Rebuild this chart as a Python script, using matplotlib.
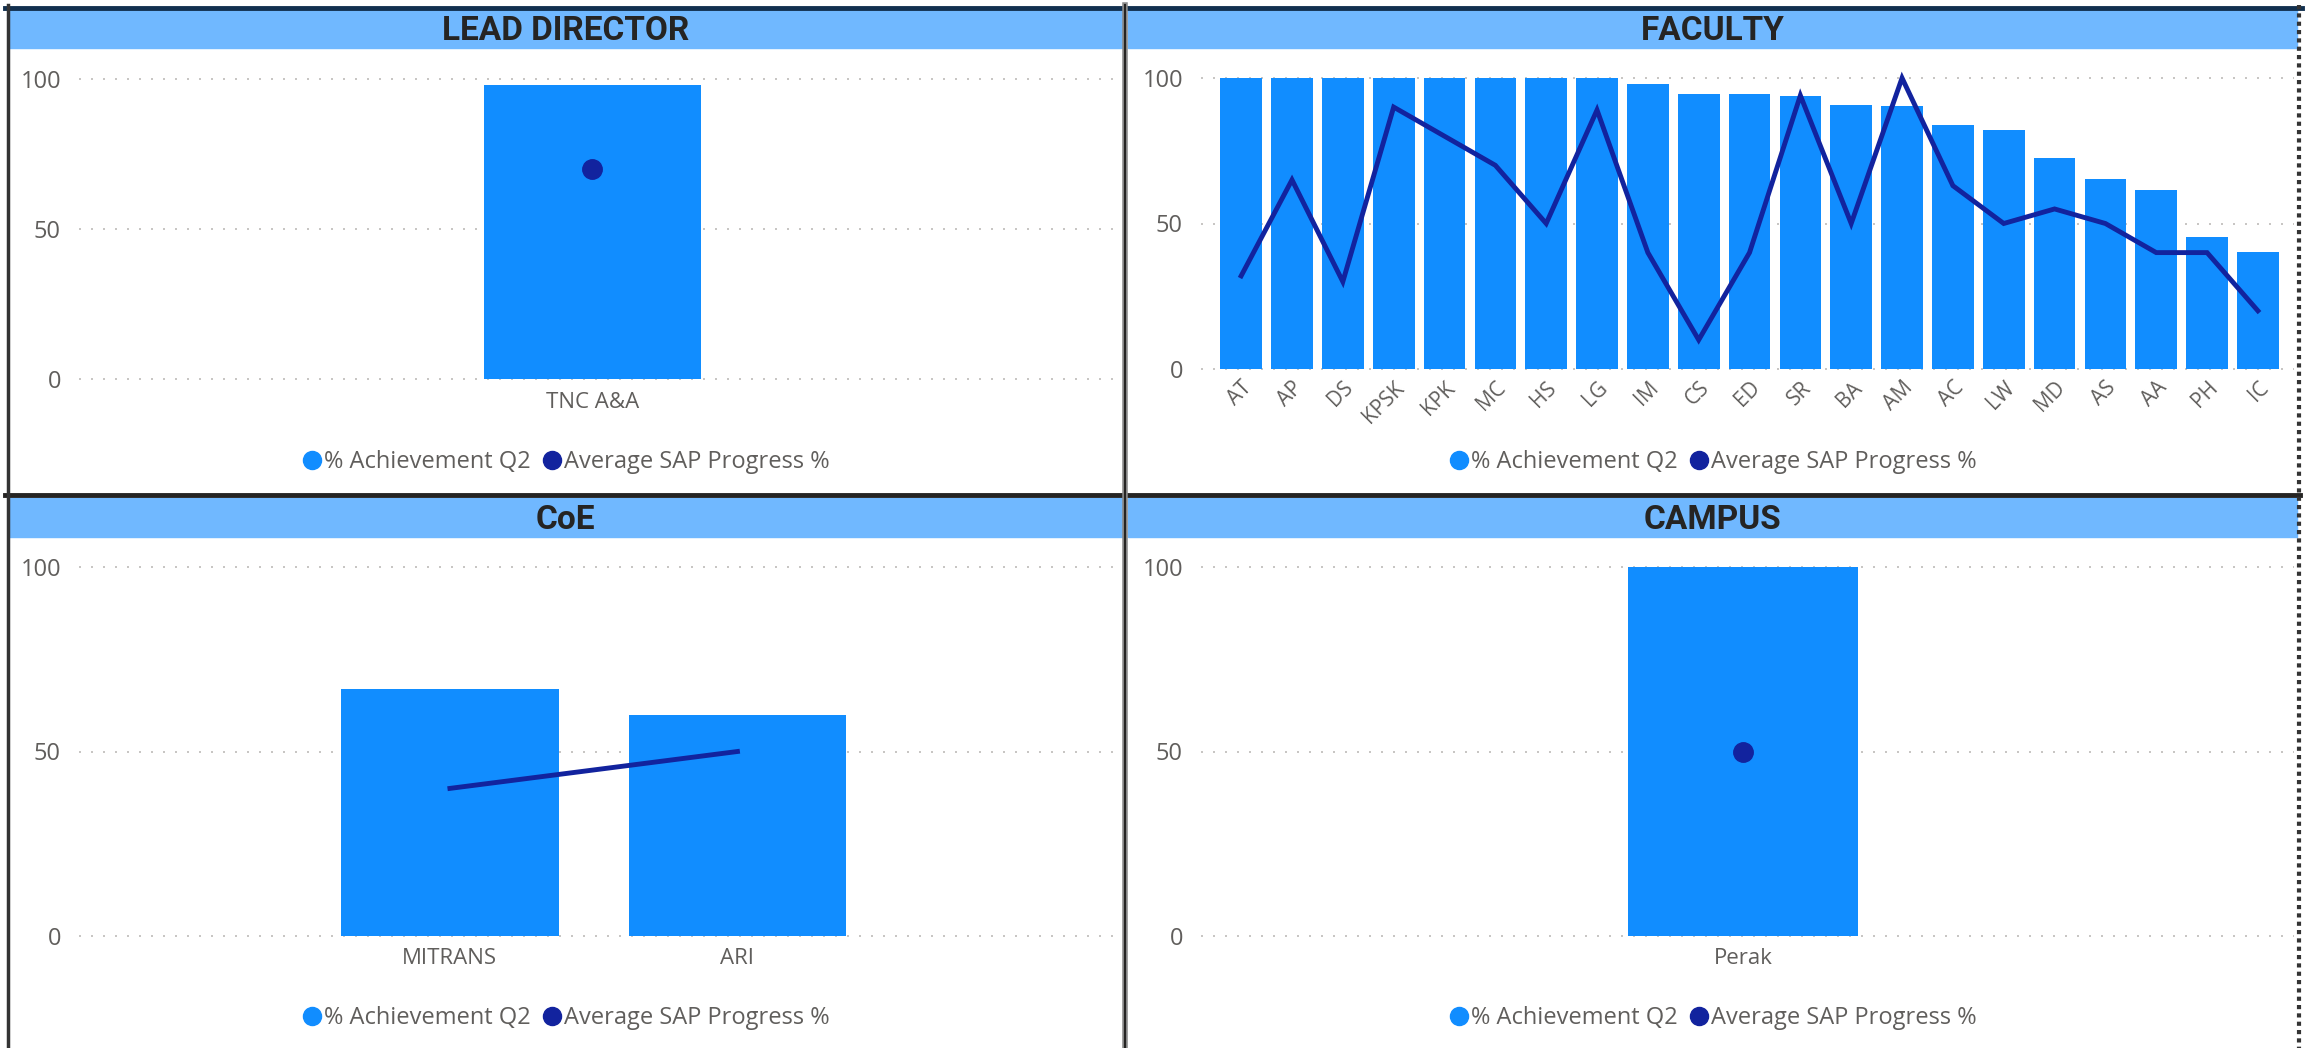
import numpy as np
import matplotlib
matplotlib.use("Agg")
import matplotlib.pyplot as plt
from matplotlib.lines import Line2D
from matplotlib.patches import Rectangle
import matplotlib.transforms as mtransforms

# ---------------- data ----------------
ld_cats = ["TNC A&A"]
ld_ach = [98]
ld_sap = [70]

fac_cats = ["AT", "AP", "DS", "KPSK", "KPK", "MC", "HS", "LG", "IM", "CS", "ED",
            "SR", "BA", "AM", "AC", "LW", "MD", "AS", "AA", "PH", "IC"]
fac_ach = [100, 100, 100, 100, 100, 100, 100, 100, 98, 94.5, 94.4,
           93.7, 90.7, 90.3, 83.9, 82.2, 72.5, 65.3, 61.6, 45.5, 40.1]
fac_sap = [32, 65, 30, 90, 80, 70, 50, 89, 40, 10, 40,
           94, 50, 100, 63, 50, 55, 50, 40, 40, 20]

coe_cats = ["MITRANS", "ARI"]
coe_ach = [67, 60]
coe_sap = [40, 50]

campus_cats = ["Perak"]
campus_ach = [100]
campus_sap = [50]

titles = ["LEAD DIRECTOR", "FACULTY", "CoE", "CAMPUS"]
legend_labels = ["% Achievement Q2", "Average SAP Progress %"]
yticks = [0, 50, 100]

# ---------------- style ----------------
BAR = "#118DFF"
LINE = "#12239E"
HEAD = "#70B8FF"
TXT = "#605E5C"
GRID = "#C8C6C4"
FONT = ["Open Sans", "DejaVu Sans"]

W, H = 2310, 1048
fig = plt.figure(figsize=(W / 100, H / 100), dpi=100)
fig.patch.set_facecolor("white")


def fx(x):
    return x / W


def fy(y):
    return 1 - y / H


def ax_px(x0, y0, x1, y1):
    return fig.add_axes([x0 / W, 1 - y1 / H, (x1 - x0) / W, (y1 - y0) / H])


def panel(ax, cats, ach, sap, xlim, width, rotate=False):
    x = np.arange(len(cats))
    for yv in yticks:
        ax.axhline(yv, color=GRID, lw=1.44, ls=(0, (1, 5)), zorder=0, clip_on=False)
    ax.bar(x, ach, width=width, color=BAR, zorder=2)
    if len(cats) == 1:
        ax.plot(x, sap, "o", ms=14, color=LINE, zorder=3, clip_on=False)
    else:
        ax.plot(x, sap, "-", lw=3.5, color=LINE, zorder=3, clip_on=False,
                solid_joinstyle="miter")
    ax.set_xlim(xlim)
    ax.set_ylim(0, 100)
    ax.set_yticks(yticks)
    ax.set_yticklabels([str(v) for v in yticks], fontsize=17, color=TXT, family=FONT)
    ax.set_xticks(x)
    if rotate:
        ax.set_xticklabels(cats, rotation=45, ha="right", va="top",
                           rotation_mode="anchor", fontsize=15, color=TXT, family=FONT)
        ax.tick_params(axis="x", pad=6)
        off = mtransforms.ScaledTranslation(-8 / 100, 0, fig.dpi_scale_trans)
        for lab in ax.get_xticklabels():
            lab.set_transform(lab.get_transform() + off)
    else:
        ax.set_xticklabels(cats, fontsize=16, color=TXT, family=FONT)
        ax.tick_params(axis="x", pad=9)
    ax.tick_params(axis="y", pad=13)
    ax.tick_params(length=0)
    for s in ax.spines.values():
        s.set_visible(False)
    ax.set_facecolor("none")


# axes
ax1 = ax_px(79, 79, 1117, 379)
panel(ax1, ld_cats, ld_ach, ld_sap, (-1.80, 1.84), 0.76)

ax2 = ax_px(1201, 78, 2294, 369)
panel(ax2, fac_cats, fac_ach, fac_sap, (-0.79, 20.71), 0.82, rotate=True)

ax3 = ax_px(79, 567, 1117, 936)
panel(ax3, coe_cats, coe_ach, coe_sap, (-1.29, 2.32), 0.757)

ax4 = ax_px(1201, 567, 2294, 936)
panel(ax4, campus_cats, campus_ach, campus_sap, (-1.79, 1.82), 0.76)

# title bars
bars = [(9, 10, 1122, 48), (1128, 10, 2297, 48), (9, 498, 1122, 537), (1128, 498, 2297, 537)]
for (x0, y0, x1, y1), t in zip(bars, titles):
    fig.patches.append(Rectangle((fx(x0), fy(y1)), fx(x1) - fx(x0), fy(y0) - fy(y1),
                                 transform=fig.transFigure, color=HEAD, zorder=1))
    fig.text(fx((x0 + x1) / 2), fy((y0 + y1) / 2 + 2), t, ha="center", va="center",
             fontsize=24, fontweight="bold", color="#252423",
             family=["Roboto", "DejaVu Sans"])

# legends
handles = [Line2D([], [], marker="o", ls="", color=BAR, ms=13),
           Line2D([], [], marker="o", ls="", color=LINE, ms=13)]
for cx, cy in [(565, 462), (1712, 462), (565, 1018), (1712, 1018)]:
    leg = fig.legend(handles, legend_labels, loc="center", bbox_to_anchor=(fx(cx), fy(cy)),
                     ncol=2, frameon=False, handletextpad=0.0, columnspacing=0.4,
                     handlelength=1.0, borderaxespad=0, prop={"family": FONT, "size": 17})
    for t in leg.get_texts():
        t.set_color(TXT)

# borders
def hline(y, x0, x1, color, lw):
    fig.lines.append(Line2D([fx(x0), fx(x1)], [fy(y), fy(y)], transform=fig.transFigure,
                            color=color, lw=lw, zorder=5))


def vline(x, y0, y1, color, lw, ls="-"):
    fig.lines.append(Line2D([fx(x), fx(x)], [fy(y0), fy(y1)], transform=fig.transFigure,
                            color=color, lw=lw, ls=ls, zorder=5))


hline(8, 5, 2302, "#12304F", 3.5)
hline(495, 5, 2300, "#252423", 3.5)
vline(8, 5, 1048, "#333333", 2.5)
vline(1125, 5, 1048, "#8A8A8A", 4)
vline(1125, 5, 1048, "#252423", 1.5)
vline(2299, 5, 1048, "#333333", 3, ls=(0, (1, 1)))

fig.savefig("out.png", dpi=100, facecolor="white")
